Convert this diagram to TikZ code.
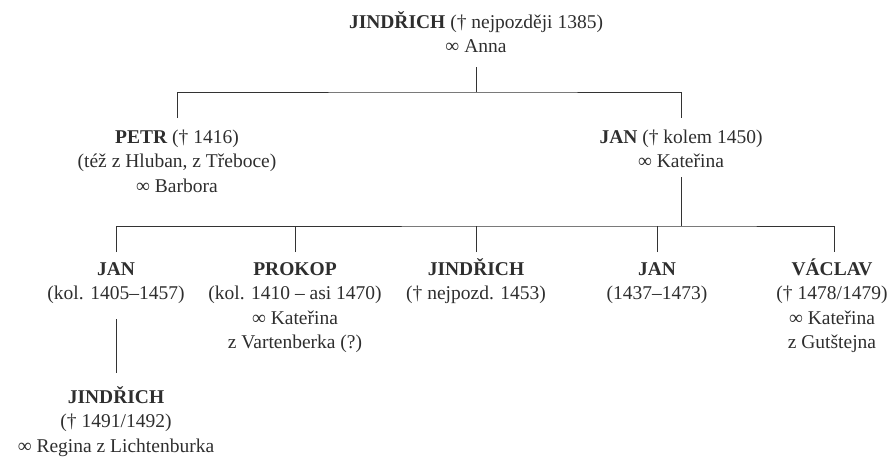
\documentclass[tikz,border=0pt]{standalone}
\usepackage{fontspec}
\setmainfont{Liberation Serif}
\definecolor{txt}{HTML}{2E2E2E}
\definecolor{ln}{HTML}{333333}
\begin{document}
\begin{tikzpicture}[x=1pt,y=-1pt,
  person/.style={align=center, font=\fontsize{19.5}{24.5}\selectfont, text=txt, inner sep=0pt, anchor=base},
  link/.style={draw=ln, line width=1pt}]
\useasboundingbox (0,0) rectangle (888,456);
% nodes (anchor = baseline of the last line)
\node[person] (top) at (476,52.5) {\textbf{JINDŘICH} († nejpozději 1385)\\∞ Anna};
\node[person] (petr) at (177,192) {\textbf{PETR} († 1416)\\(též z Hluban, z Třeboce)\\∞ Barbora};
\node[person] (jan1) at (681,167.5) {\textbf{JAN} († kolem 1450)\\∞ Kateřina};
\node[person] (jan2) at (116,299.5) {\textbf{JAN}\\(kol. 1405–1457)};
\node[person] (prokop) at (295,348.5) {\textbf{PROKOP}\\(kol. 1410 – asi 1470)\\∞ Kateřina\\z Vartenberka (?)};
\node[person] (jind2) at (476,299.5) {\textbf{JINDŘICH}\\(† nejpozd. 1453)};
\node[person] (jan3) at (657,299.5) {\textbf{JAN}\\(1437–1473)};
\node[person] (vaclav) at (832,348.5) {\textbf{VÁCLAV}\\(† 1478/1479)\\∞ Kateřina\\z Gutštejna};
\node[person] (jind3) at (116,452) {\textbf{JINDŘICH}\\(† 1491/1492)\\∞ Regina z Lichtenburka};
% connector points
\coordinate (topB) at (476,67);
\coordinate (bus1) at (476,92);
\coordinate (petrT) at (177,118);
\coordinate (jan1T) at (681,118);
\coordinate (jan1B) at (681,177);
\coordinate (bus2) at (681,226);
\coordinate (jan2T) at (116,252);
\coordinate (prokopT) at (295,252);
\coordinate (jind2T) at (476,252);
\coordinate (jan3T) at (657,252);
\coordinate (vaclavT) at (834,252);
\coordinate (jan2B) at (116,319);
\coordinate (jind3T) at (116,373);
% connectors
\draw[link] (topB) -- (bus1);
\draw[link] (petrT) |- (bus1) -| (jan1T);
\draw[link] (jan1B) -- (bus2);
\draw[link] (jan2T) |- (bus2) -| (vaclavT);
\draw[link] (prokopT) -- (prokopT |- bus2);
\draw[link] (jind2T) -- (jind2T |- bus2);
\draw[link] (jan3T) -- (jan3T |- bus2);
\draw[link] (jan2B) -- (jind3T);
\end{tikzpicture}
\end{document}
